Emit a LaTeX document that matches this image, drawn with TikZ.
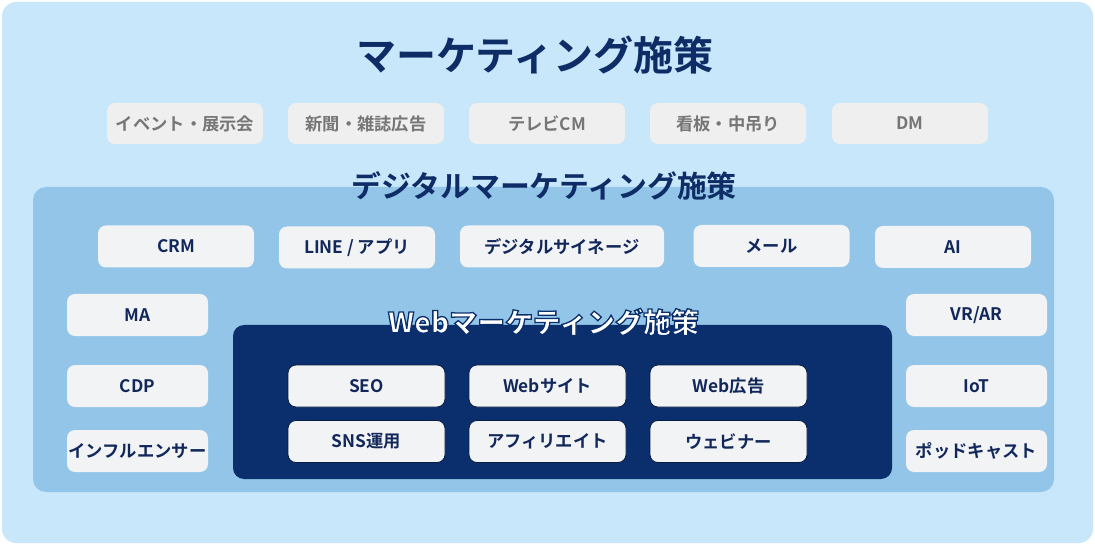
\documentclass[tikz,border=0pt]{standalone}
\usepackage{fontspec}
\setmainfont{Noto Sans CJK JP}[BoldFont={* Bold}]
\newfontfamily\jpb{Noto Sans CJK JP Bold}
\newfontfamily\jpblack{Noto Sans CJK JP Black}
\definecolor{outerbg}{HTML}{C8E7FA}
\definecolor{digbg}{HTML}{93C5E8}
\definecolor{webbg}{HTML}{0B2F6D}
\definecolor{navy}{HTML}{0E2C66}
\definecolor{boxtxt}{HTML}{12285A}
\definecolor{graytxt}{HTML}{767676}
\definecolor{grayfill}{HTML}{EFEFEF}
\definecolor{whitefill}{HTML}{F2F3F5}
\tikzset{
  tbox/.style={rectangle, rounded corners=8pt, fill=grayfill, minimum width=156pt, minimum height=41pt, inner sep=0pt, text=graytxt, font=\jpb\fontsize{17.3}{19}\selectfont},
  dbox/.style={rectangle, rounded corners=8pt, fill=whitefill, minimum width=156pt, minimum height=42pt, inner sep=0pt, text=boxtxt, font=\jpb\fontsize{17.3}{19}\selectfont},
  sbox/.style={dbox, minimum width=141pt},
  wbox/.style={dbox, minimum width=157pt, draw=webbg!60!black, line width=0.8pt},
}
\begin{document}
\begin{tikzpicture}[x=1pt,y=-1pt]
\useasboundingbox (0,0) rectangle (1095,545);
\fill[white] (0,0) rectangle (1095,545);
% outer panel
\node[draw=none, fill=outerbg, rounded corners=14pt, minimum width=1091pt, minimum height=541pt, inner sep=0pt] (outer) at (547.5,272.5) {};
% title
\node[text=navy, font=\jpb\fontsize{40}{42}\selectfont] (title) at (535,55) {マーケティング施策};
% top row
\node[tbox] (ev) at (185,123.5) {イベント・展示会};
\node[tbox] (np) at (366,123.5) {新聞・雑誌広告};
\node[tbox] (tv) at (547,123.5) {テレビCM};
\node[tbox] (kb) at (728,123.5) {看板・中吊り};
\node[tbox] (dm) at (910,123.5) {DM};
% digital panel
\node[fill=digbg, rounded corners=13pt, minimum width=1021pt, minimum height=305pt, inner sep=0pt] (digital) at (543.5,339.5) {};
\node[text=navy, font=\jpb\fontsize{29.9}{32}\selectfont] (digtitle) at (544,186) {デジタルマーケティング施策};
\node[dbox] (crm) at (176,246.5) {CRM};
\node[dbox] (line) at (357,247.5) {LINE / アプリ};
\node[dbox, minimum width=204pt] (sign) at (562,246.5) {デジタルサイネージ};
\node[dbox] (mail) at (771.5,246) {メール};
\node[dbox] (ai) at (953,247) {AI};
\node[sbox] (ma) at (137.5,315) {MA};
\node[sbox] (cdp) at (137.5,386) {CDP};
\node[sbox] (inf) at (137.5,451) {インフルエンサー};
\node[sbox] (vr) at (976.5,315) {VR/AR};
\node[sbox] (iot) at (976.5,386) {IoT};
\node[sbox] (pod) at (976.5,451) {ポッドキャスト};
% web panel
\node[fill=webbg, rounded corners=11pt, minimum width=659pt, minimum height=154pt, inner sep=0pt] (web) at (562.5,402) {};
\node[text=white, font=\jpblack\fontsize{28}{30}\selectfont] (webtitle) at (543.5,322) {\special{pdf:literal direct 2 Tr 1.3 w 0.043 0.184 0.427 RG}Webマーケティング施策\special{pdf:literal direct 0 Tr}};
\node[wbox] (seo) at (366.5,386) {SEO};
\node[wbox] (site) at (547.5,386) {Webサイト};
\node[wbox] (ad) at (728.5,386) {Web広告};
\node[wbox] (sns) at (366.5,441.5) {SNS運用};
\node[wbox] (aff) at (547.5,441.5) {アフィリエイト};
\node[wbox] (webi) at (728.5,441.5) {ウェビナー};
\end{tikzpicture}
\end{document}
